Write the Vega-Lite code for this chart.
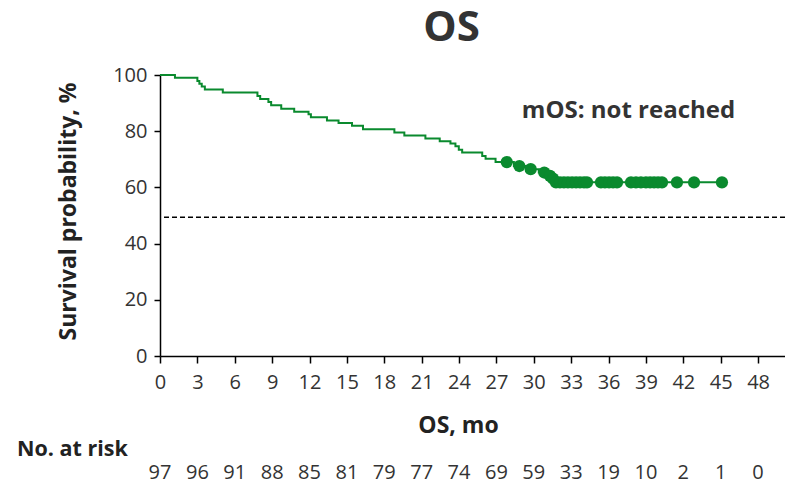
{
  "$schema": "https://vega.github.io/schema/vega-lite/v6.json",
  "padding": {"left": 17, "top": 7, "right": 0, "bottom": 5},
  "config": {
    "font": "Open Sans",
    "view": {"stroke": null},
    "concat": {"spacing": 1}
  },
  "datasets": {
    "km": [
      {"month": 0, "surv": 100},
      {"month": 1.2, "surv": 99.0},
      {"month": 3.0, "surv": 97.9},
      {"month": 3.16, "surv": 96.9},
      {"month": 3.35, "surv": 95.9},
      {"month": 3.6, "surv": 94.8},
      {"month": 5.04, "surv": 93.8},
      {"month": 7.82, "surv": 92.5},
      {"month": 8.04, "surv": 91.5},
      {"month": 8.7, "surv": 90.4},
      {"month": 8.92, "surv": 89.2},
      {"month": 9.73, "surv": 88.0},
      {"month": 10.77, "surv": 86.9},
      {"month": 11.92, "surv": 86.0},
      {"month": 12.11, "surv": 85.0},
      {"month": 13.4, "surv": 83.8},
      {"month": 14.33, "surv": 82.9},
      {"month": 15.41, "surv": 81.9},
      {"month": 16.29, "surv": 80.7},
      {"month": 18.81, "surv": 79.5},
      {"month": 19.61, "surv": 78.5},
      {"month": 21.3, "surv": 77.4},
      {"month": 22.45, "surv": 76.4},
      {"month": 23.31, "surv": 75.6},
      {"month": 23.71, "surv": 74.6},
      {"month": 23.98, "surv": 73.4},
      {"month": 24.25, "surv": 72.4},
      {"month": 25.86, "surv": 71.2},
      {"month": 26.13, "surv": 70.2},
      {"month": 26.93, "surv": 69.0},
      {"month": 28.4, "surv": 67.6},
      {"month": 29.4, "surv": 66.5},
      {"month": 30.4, "surv": 65.3},
      {"month": 31.15, "surv": 64.1},
      {"month": 31.45, "surv": 63.1},
      {"month": 31.7, "surv": 61.8},
      {"month": 45.1, "surv": 61.8}
    ],
    "censored": [
      {"month": 27.83, "surv": 69.0},
      {"month": 28.84, "surv": 67.6},
      {"month": 29.75, "surv": 66.5},
      {"month": 30.84, "surv": 65.3},
      {"month": 31.3, "surv": 64.1},
      {"month": 31.54, "surv": 63.1},
      {"month": 31.78, "surv": 61.8},
      {"month": 32.1, "surv": 61.8},
      {"month": 32.42, "surv": 61.8},
      {"month": 32.74, "surv": 61.8},
      {"month": 33.07, "surv": 61.8},
      {"month": 33.39, "surv": 61.8},
      {"month": 33.71, "surv": 61.8},
      {"month": 34.03, "surv": 61.8},
      {"month": 34.27, "surv": 61.8},
      {"month": 35.39, "surv": 61.8},
      {"month": 35.71, "surv": 61.8},
      {"month": 36.04, "surv": 61.8},
      {"month": 36.36, "surv": 61.8},
      {"month": 36.68, "surv": 61.8},
      {"month": 37.8, "surv": 61.8},
      {"month": 38.2, "surv": 61.8},
      {"month": 38.6, "surv": 61.8},
      {"month": 39.0, "surv": 61.8},
      {"month": 39.33, "surv": 61.8},
      {"month": 39.65, "surv": 61.8},
      {"month": 39.97, "surv": 61.8},
      {"month": 40.29, "surv": 61.8},
      {"month": 41.49, "surv": 61.8},
      {"month": 42.86, "surv": 61.8},
      {"month": 45.1, "surv": 61.8}
    ],
    "risk": [
      {"month": 0, "n": 97},
      {"month": 3, "n": 96},
      {"month": 6, "n": 91},
      {"month": 9, "n": 88},
      {"month": 12, "n": 85},
      {"month": 15, "n": 81},
      {"month": 18, "n": 79},
      {"month": 21, "n": 77},
      {"month": 24, "n": 74},
      {"month": 27, "n": 69},
      {"month": 30, "n": 59},
      {"month": 33, "n": 33},
      {"month": 36, "n": 19},
      {"month": 39, "n": 10},
      {"month": 42, "n": 2},
      {"month": 45, "n": 1},
      {"month": 48, "n": 0}
    ]
  },
  "vconcat": [
    {
      "width": 625,
      "height": 281,
      "title": {
        "text": "OS",
        "fontSize": 42,
        "fontWeight": "bold",
        "color": "#333333",
        "frame": "group",
        "anchor": "middle",
        "dx": -21,
        "offset": 15
      },
      "layer": [
        {
          "data": {"name": "km"},
          "mark": {"type": "line", "interpolate": "step-after", "color": "#0a8a2e", "strokeWidth": 2},
          "encoding": {
            "x": {
              "field": "month",
              "type": "quantitative",
              "scale": {"domain": [0, 50.16], "nice": false, "zero": false},
              "axis": {
                "values": [0, 3, 6, 9, 12, 15, 18, 21, 24, 27, 30, 33, 36, 39, 42, 45, 48],
                "tickCount": 30,
                "title": "OS, mo",
                "titleFontSize": 23,
                "titleFontWeight": "bold",
                "titleColor": "#222222",
                "titlePadding": 22,
                "titleX": 298,
                "labelFontSize": 20,
                "labelColor": "#333333",
                "labelPadding": 9,
                "labelFlush": false,
                "labelOverlap": false,
                "tickSize": 7,
                "tickWidth": 1.5,
                "tickColor": "black",
                "domainColor": "black",
                "domainWidth": 1.5,
                "grid": false
              }
            },
            "y": {
              "field": "surv",
              "type": "quantitative",
              "scale": {"domain": [0, 100], "nice": false},
              "axis": {
                "values": [0, 20, 40, 60, 80, 100],
                "tickCount": 10,
                "title": "Survival probability, %",
                "titleFontSize": 23,
                "titleFontWeight": "bold",
                "titleColor": "#222222",
                "titlePadding": 32,
                "titleY": 136,
                "labelFontSize": 20,
                "labelColor": "#333333",
                "labelPadding": 7,
                "labelOverlap": false,
                "tickSize": 6,
                "tickWidth": 1.5,
                "tickColor": "black",
                "domainColor": "black",
                "domainWidth": 1.5,
                "grid": false
              }
            }
          }
        },
        {
          "data": {"name": "censored"},
          "mark": {"type": "point", "filled": true, "size": 150, "color": "#0a8a2e", "opacity": 1},
          "encoding": {
            "x": {"field": "month", "type": "quantitative"},
            "y": {"field": "surv", "type": "quantitative"}
          }
        },
        {
          "data": {"values": [{"ref": 49.4}]},
          "mark": {"type": "rule", "strokeDash": [5, 3], "color": "black", "strokeWidth": 1.5},
          "encoding": {
            "y": {"field": "ref", "type": "quantitative"}
          }
        },
        {
          "data": {"values": [{"month": 37.6, "surv": 87.3, "label": "mOS: not reached"}]},
          "mark": {"type": "text", "fontSize": 24, "fontWeight": "bold", "color": "#333333"},
          "encoding": {
            "x": {"field": "month", "type": "quantitative"},
            "y": {"field": "surv", "type": "quantitative"},
            "text": {"field": "label"}
          }
        }
      ]
    },
    {
      "width": 625,
      "height": 22,
      "title": {
        "text": "No. at risk",
        "fontSize": 21.5,
        "fontWeight": "bold",
        "color": "#222222",
        "frame": "group",
        "anchor": "start",
        "dx": -143,
        "offset": 2
      },
      "data": {"name": "risk"},
      "mark": {"type": "text", "fontSize": 20, "color": "#333333"},
      "encoding": {
        "x": {
          "field": "month",
          "type": "quantitative",
          "scale": {"domain": [0, 50.16], "nice": false, "zero": false},
          "axis": null
        },
        "text": {"field": "n"}
      }
    }
  ]
}
